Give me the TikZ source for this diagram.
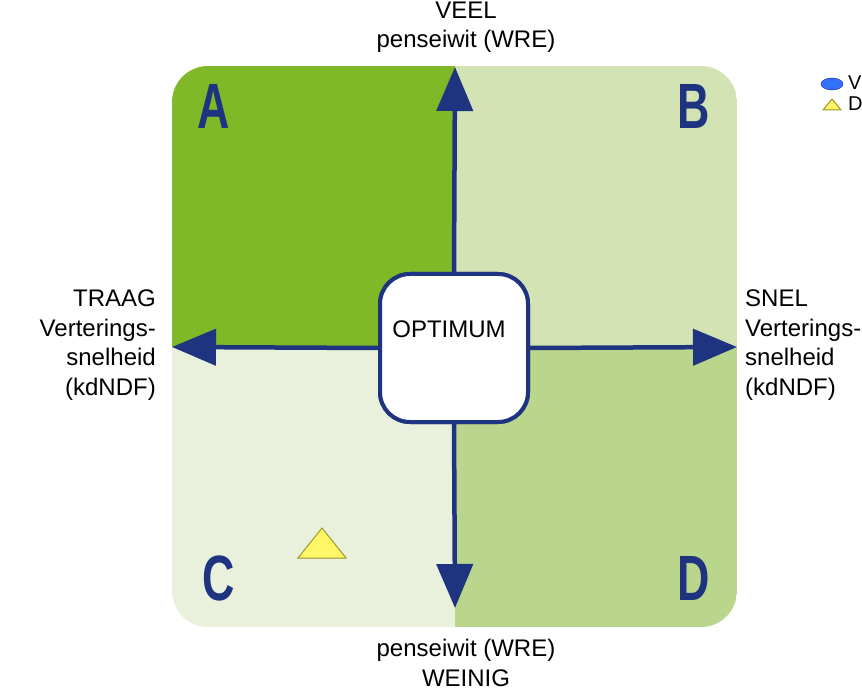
\documentclass[tikz,border=0pt]{standalone}
\usepackage{fontspec}
\setmainfont{Liberation Sans}
\usetikzlibrary{arrows.meta,positioning}
\definecolor{navy}{RGB}{31,52,128}
\definecolor{qA}{RGB}{128,185,39}
\definecolor{qB}{RGB}{212,227,180}
\definecolor{qC}{RGB}{233,240,220}
\definecolor{qD}{RGB}{186,214,140}
\tikzstyle{axis}=[draw=navy,line width=4.5pt,-{Triangle[width=36pt,length=44pt]}]
\tikzstyle{optbox}=[draw=navy,line width=4pt,fill=white,rounded corners=30pt,minimum width=148pt,minimum height=148pt,inner sep=0pt]
\tikzstyle{letter}=[text=navy,font=\fontsize{64}{64}\selectfont\bfseries,inner sep=0pt]
\tikzstyle{lbl}=[font=\fontsize{24}{29.5}\selectfont,inner sep=0pt]
\tikzstyle{tri}=[draw=black!10!olive!80,fill=yellow!60,line width=1pt]
\newcommand{\narrow}[1]{\scalebox{0.7}[1]{#1}}

\begin{document}
\begin{tikzpicture}[x=1pt,y=-1pt]
  \useasboundingbox (0,0) rectangle (862,692);

  % quadrants
  \begin{scope}
    \clip[rounded corners=36pt] (172,66) rectangle (737,627);
    \fill[qA] (172,66) rectangle (455,347);
    \fill[qB] (455,66) rectangle (737,347);
    \fill[qC] (172,347) rectangle (455,627);
    \fill[qD] (455,347) rectangle (737,627);
  \end{scope}

  \node[letter] (a) at (214,106) {\narrow{A}};
  \node[letter] (b) at (694,106) {\narrow{B}};
  \node[letter] (c) at (219,578) {\narrow{C}};
  \node[letter] (d) at (694,578) {\narrow{D}};

  % axes
  \coordinate (top) at (455,67);
  \coordinate (bot) at (455,608);
  \coordinate (left) at (172,347);
  \coordinate (right) at (737,347);
  \node[optbox] (opt) at (454,348) {};
  \draw[axis] (opt.north) -- (top);
  \draw[axis] (opt.south) -- (bot);
  \draw[axis] (opt.west) -- (left);
  \draw[axis] (opt.east) -- (right);
  \node[optbox] (opt) at (454,348) {};
  \node[lbl] (optlbl) at (449,329) {OPTIMUM};

  % labels
  \node[lbl,align=center] (veel) at (466,27) {VEEL\\penseiwit (WRE)};
  \node[lbl,align=center] (weinig) at (466,663) {penseiwit (WRE)\\WEINIG};
  \node[lbl,align=right,anchor=east] (traag) at (156,345) {TRAAG\\Verterings-\\snelheid\\(kdNDF)};
  \node[lbl,align=left,anchor=west] (snel) at (745,345) {SNEL\\Verterings-\\snelheid\\(kdNDF)};

  % data point
  \draw[tri] (298,558) -- (346,558) -- (322,528) -- cycle;

  % legend (cut off)
  \draw[navy!60!blue,fill=blue!70!cyan!80] (832,84) ellipse (11pt and 6pt);
  \node[lbl,anchor=west,font=\fontsize{20}{20}\selectfont] (legv) at (848,83) {V};
  \draw[tri] (823,110) -- (841,110) -- (832,99) -- cycle;
  \node[lbl,anchor=west,font=\fontsize{20}{20}\selectfont] (legd) at (848,104) {D};
\end{tikzpicture}
\end{document}
